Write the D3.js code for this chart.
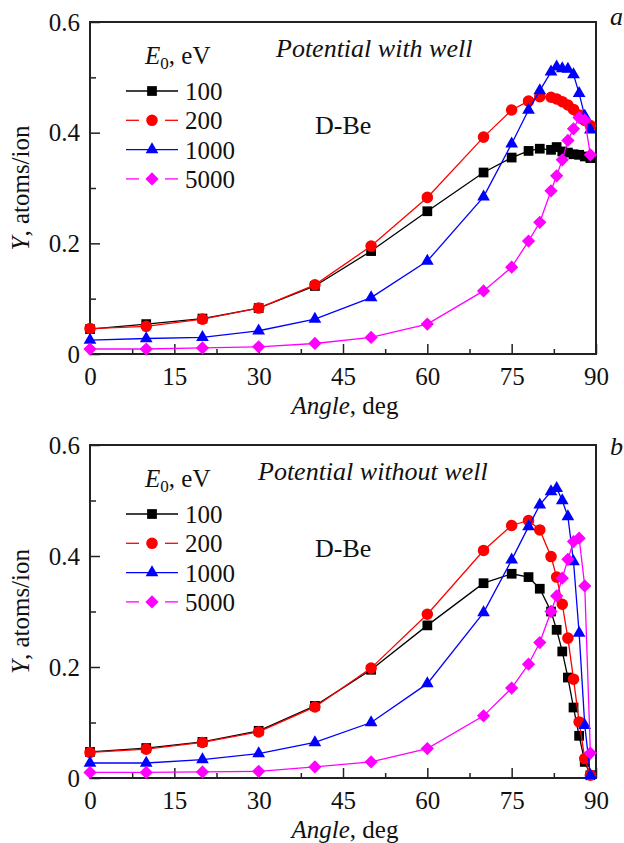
<!DOCTYPE html>
<html><head><meta charset="utf-8">
<script src="https://cdn.jsdelivr.net/npm/d3@7"></script>
</head>
<body style="margin:0;background:#fff"><svg width="624" height="843" font-family="Liberation Serif, Times New Roman, serif" style="display:block"></svg>
<script>
const angles = [0,10,20,30,40,50,60,70,75,78,80,82,83,84,85,86,87,88,89];
const seriesNames = ["100","200","1000","5000"];
const colors = ["#000000","#ff0000","#0000ff","#ff00ff"];

// Panel a: potential with well
const withWell100  = [0.045,0.054,0.064,0.083,0.123,0.186,0.258,0.328,0.355,0.367,0.371,0.369,0.374,0.366,0.364,0.361,0.360,0.357,0.354];
const withWell200  = [0.046,0.050,0.063,0.083,0.125,0.195,0.283,0.392,0.441,0.457,0.465,0.464,0.461,0.456,0.450,0.442,0.432,0.422,0.413];
const withWell1000 = [0.025,0.028,0.030,0.042,0.063,0.102,0.168,0.284,0.380,0.441,0.476,0.510,0.519,0.516,0.515,0.505,0.471,0.430,0.405];
const withWell5000 = [0.009,0.009,0.011,0.013,0.019,0.030,0.054,0.114,0.157,0.204,0.238,0.295,0.322,0.351,0.386,0.407,0.427,0.423,0.360];

// Panel b: potential without well
const noWell100  = [0.047,0.054,0.065,0.085,0.130,0.195,0.275,0.351,0.368,0.362,0.341,0.300,0.267,0.228,0.181,0.127,0.076,0.029,0.005];
const noWell200  = [0.046,0.052,0.064,0.083,0.128,0.198,0.295,0.410,0.455,0.464,0.447,0.399,0.362,0.313,0.252,0.178,0.101,0.035,0.005];
const noWell1000 = [0.027,0.027,0.033,0.044,0.064,0.100,0.170,0.298,0.393,0.453,0.492,0.516,0.522,0.500,0.471,0.390,0.261,0.095,0.005];
const noWell5000 = [0.010,0.010,0.011,0.012,0.020,0.029,0.053,0.112,0.162,0.205,0.244,0.300,0.328,0.360,0.394,0.426,0.432,0.346,0.045];

const xTicks = [0,15,30,45,60,75,90];
const xMinor = [7.5,22.5,37.5,52.5,67.5,82.5];
const yTicks = [0,0.2,0.4,0.6];
const yMinor = [0.1,0.3,0.5];

const panels = [
  {top:22, bottom:354, title:"Potential with well", titleX:276, letter:"a", letterY:25, data:[withWell100,withWell200,withWell1000,withWell5000]},
  {top:445, bottom:778, title:"Potential without well", titleX:258, letter:"b", letterY:455, data:[noWell100,noWell200,noWell1000,noWell5000]}
];

const FONT = "Liberation Serif, Times New Roman, serif";
const svg = d3.select("svg");
const left = 90, right = 596;
const x = d3.scaleLinear().domain([0,90]).range([left,right]);

// marker generators: square, circle, triangle, diamond (rotated square)
const markers = [
  {gen: d3.symbol().type(d3.symbolSquare).size(95), rot: 0},
  {gen: d3.symbol().type(d3.symbolCircle).size(105), rot: 0},
  {gen: d3.symbol().type(d3.symbolTriangle).size(70), rot: 0},
  {gen: d3.symbol().type(d3.symbolSquare).size(88), rot: 45}
];

function txt(sel){ return sel.attr("font-family",FONT).attr("fill","#111"); }

panels.forEach(p => {
  const y = d3.scaleLinear().domain([0,0.6]).range([p.bottom,p.top]);
  const g = svg.append("g");

  // frame
  g.append("rect").attr("x",left).attr("y",p.top).attr("width",right-left).attr("height",p.bottom-p.top)
    .attr("fill","none").attr("stroke","#222").attr("stroke-width",2);

  // axes
  const xa = g.append("g").attr("transform",`translate(0,${p.bottom})`)
    .call(d3.axisBottom(x).tickValues(xTicks).tickSizeInner(-10).tickSizeOuter(0).tickPadding(13).tickFormat(d3.format("d")));
  const xm = g.append("g").attr("transform",`translate(0,${p.bottom})`)
    .call(d3.axisBottom(x).tickValues(xMinor).tickSizeInner(-5).tickSizeOuter(0).tickFormat(""));
  const ya = g.append("g").attr("transform",`translate(${left},0)`)
    .call(d3.axisLeft(y).tickValues(yTicks).tickSizeInner(-10).tickSizeOuter(0).tickPadding(10).tickFormat(d=>d===0?"0":d.toFixed(1)));
  const ym = g.append("g").attr("transform",`translate(${left},0)`)
    .call(d3.axisLeft(y).tickValues(yMinor).tickSizeInner(-6).tickSizeOuter(0).tickFormat(""));
  [xa,xm,ya,ym].forEach(a=>{
    a.attr("font-family",FONT).attr("font-size",25);
    a.select(".domain").remove();
    a.selectAll("line").attr("stroke","#222").attr("stroke-width",1.5);
    txt(a.selectAll("text").attr("font-size",25));
  });

  // series
  p.data.forEach((vals,i) => {
    const pts = angles.map((a,j)=>[a,vals[j]]);
    g.append("path").datum(pts)
      .attr("d", d3.line().x(d=>x(d[0])).y(d=>y(d[1])))
      .attr("fill","none").attr("stroke",colors[i]).attr("stroke-width",1.3);
    g.selectAll(null).data(pts).enter().append("path")
      .attr("transform",d=>`translate(${x(d[0])},${y(d[1])}) rotate(${markers[i].rot})`)
      .attr("d", markers[i].gen())
      .attr("fill",colors[i]);
  });

  // legend
  const lg = g.append("g");
  const lt = txt(lg.append("text").attr("x",145).attr("y",p.top+42).attr("font-size",25));
  lt.append("tspan").attr("font-style","italic").text("E");
  lt.append("tspan").attr("font-size",17).attr("dy",5).text("0");
  lt.append("tspan").attr("dy",-5).text(", eV");
  seriesNames.forEach((n,i)=>{
    const ry = p.top + 69 + 29.3*i;
    if (i===1 || i===3) {
      lg.append("line").attr("x1",126).attr("x2",139).attr("y1",ry).attr("y2",ry).attr("stroke",colors[i]).attr("stroke-width",1.3);
      lg.append("line").attr("x1",165).attr("x2",178).attr("y1",ry).attr("y2",ry).attr("stroke",colors[i]).attr("stroke-width",1.3);
    } else {
      lg.append("line").attr("x1",126).attr("x2",178).attr("y1",ry).attr("y2",ry).attr("stroke",colors[i]).attr("stroke-width",1.3);
    }
    lg.append("path").attr("transform",`translate(152,${ry}) rotate(${markers[i].rot})`)
      .attr("d", markers[i].gen()).attr("fill",colors[i]);
    txt(lg.append("text").attr("x",185).attr("y",ry+9).attr("font-size",25)).text(n);
  });

  // annotations
  txt(g.append("text").attr("x",p.titleX).attr("y",p.top+35).attr("font-size",26))
    .attr("font-style","italic").text(p.title);
  txt(g.append("text").attr("x",315).attr("y",p.top+112).attr("font-size",26)).text("D-Be");
  txt(g.append("text").attr("x",610).attr("y",p.letterY).attr("font-size",26)).attr("font-style","italic").text(p.letter);

  // axis labels
  const yl = txt(g.append("text").attr("transform",`translate(29,${(p.top+p.bottom)/2}) rotate(-90)`)
    .attr("text-anchor","middle").attr("font-size",25));
  yl.append("tspan").attr("font-style","italic").text("Y");
  yl.append("tspan").text(", atoms/ion");
  const xl = txt(g.append("text").attr("x",345).attr("y",p.bottom+60).attr("text-anchor","middle").attr("font-size",25));
  xl.append("tspan").attr("font-style","italic").text("Angle");
  xl.append("tspan").text(", deg");
});
</script></body></html>
